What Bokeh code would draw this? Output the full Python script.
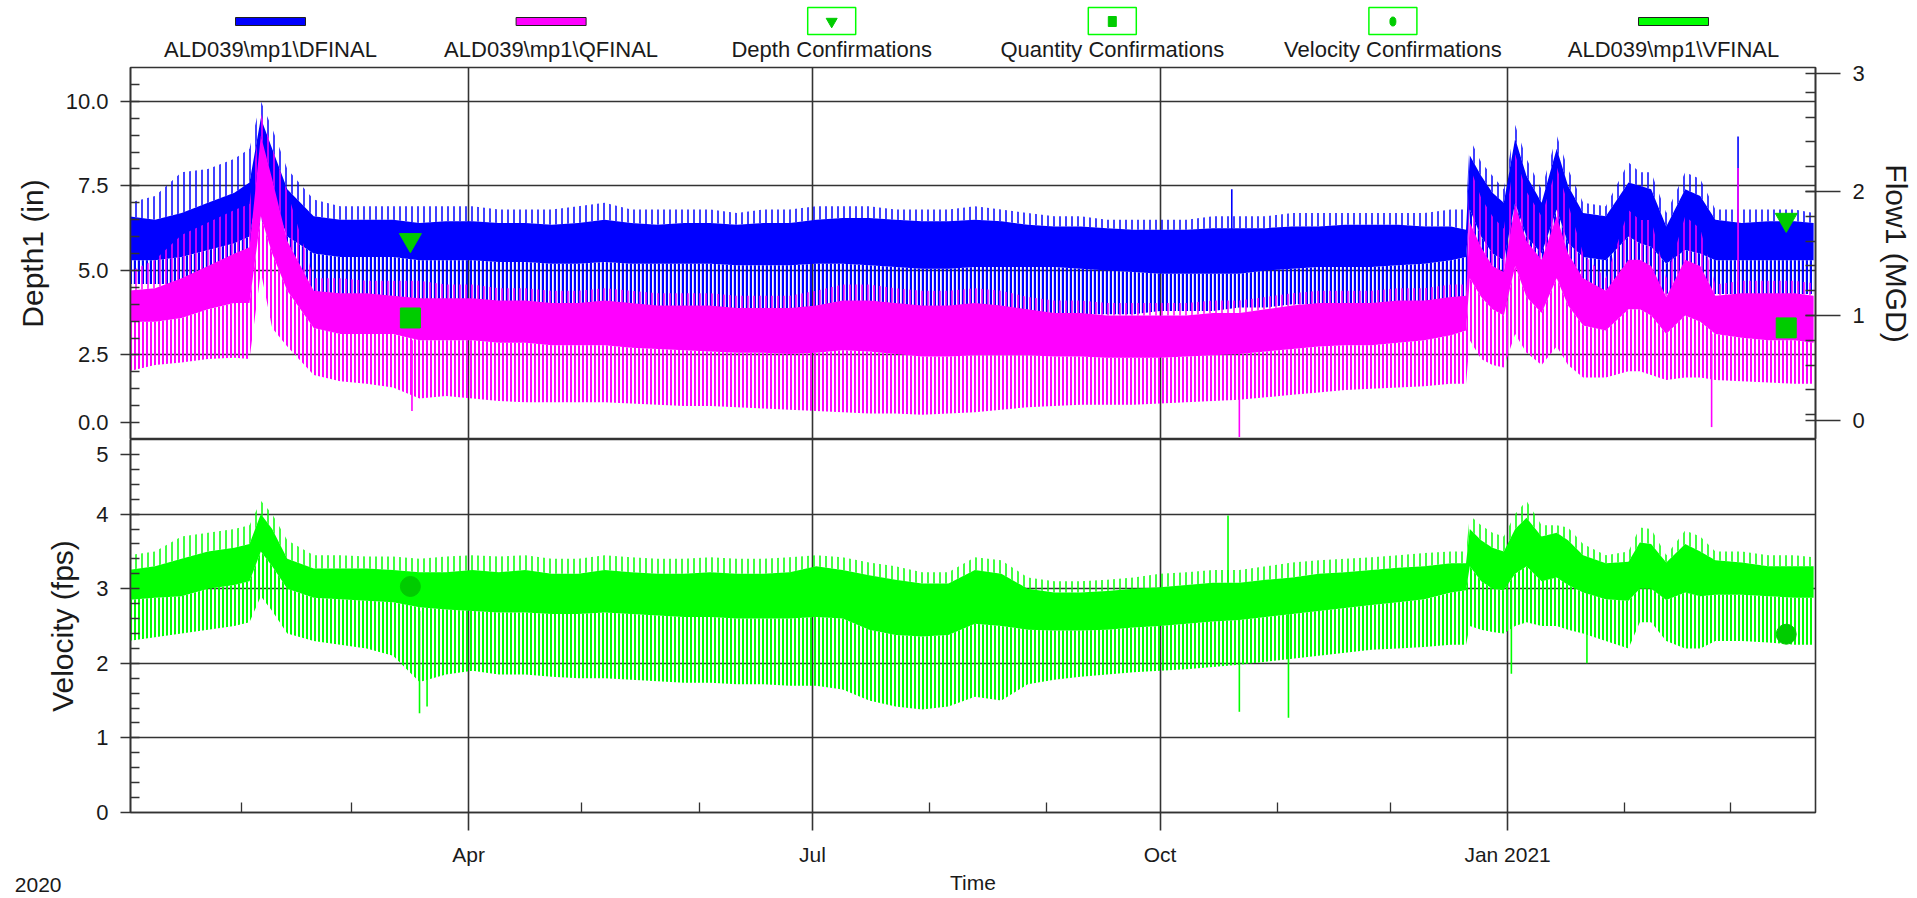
import pandas as pd
from bokeh.plotting import figure
from bokeh.layouts import column
from bokeh.models import Range1d, LinearAxis, FixedTicker, Grid, PrintfTickFormatter
from bokeh.core.properties import value
from bokeh.embed import file_html
from bokeh.resources import INLINE

# ---------------- data ----------------
x_start = "2020-01-02 12:00"
x_end = "2021-03-23 12:00"

sample_dates = [
    "2020-01-02", "2020-01-09", "2020-01-16", "2020-01-23", "2020-01-30", "2020-02-03",
    "2020-02-06", "2020-02-09", "2020-02-13", "2020-02-20", "2020-02-27", "2020-03-05",
    "2020-03-12", "2020-03-19", "2020-03-26", "2020-04-02", "2020-04-09", "2020-04-16",
    "2020-04-23", "2020-04-30", "2020-05-07", "2020-05-14", "2020-05-21", "2020-05-28",
    "2020-06-04", "2020-06-11", "2020-06-18", "2020-06-25", "2020-07-02", "2020-07-09",
    "2020-07-16", "2020-07-23", "2020-07-30", "2020-08-06", "2020-08-13", "2020-08-20",
    "2020-08-27", "2020-09-03", "2020-09-10", "2020-09-17", "2020-09-24", "2020-10-01",
    "2020-10-08", "2020-10-15", "2020-10-22", "2020-10-29", "2020-11-05", "2020-11-12",
    "2020-11-19", "2020-11-26", "2020-12-03", "2020-12-10", "2020-12-17", "2020-12-21",
    "2020-12-22", "2020-12-25", "2020-12-28", "2020-12-31", "2021-01-03", "2021-01-06",
    "2021-01-10", "2021-01-14", "2021-01-17", "2021-01-21", "2021-01-27", "2021-02-02",
    "2021-02-05", "2021-02-08", "2021-02-12", "2021-02-17", "2021-02-21", "2021-02-25",
    "2021-03-04", "2021-03-11", "2021-03-18", "2021-03-23",
]

# Depth (in): tops of daily peaks, top / bottom of dense band, bottoms of nightly dips
depth_peak = [7.0, 7.2, 7.9, 8.0, 8.3, 8.6, 10.0, 9.2, 8.0, 7.1, 6.9, 6.9, 6.9, 6.9, 6.9, 6.9,
              6.8, 6.8, 6.8, 6.9, 7.0, 6.8, 6.8, 6.8, 6.8, 6.7, 6.8, 6.8, 6.9, 6.9, 6.9, 6.8,
              6.8, 6.8, 6.9, 6.8, 6.7, 6.6, 6.6, 6.5, 6.5, 6.5, 6.5, 6.6, 6.6, 6.6, 6.7, 6.7,
              6.7, 6.7, 6.7, 6.7, 6.8, 6.8, 8.9, 8.2, 7.8, 7.4, 9.3, 8.3, 7.4, 9.0, 8.0, 7.0,
              6.9, 8.2, 7.9, 7.9, 6.7, 7.9, 7.7, 6.8, 6.8, 6.8, 6.8, 6.7]
depth_hi = [6.6, 6.5, 6.7, 7.0, 7.3, 7.6, 9.5, 8.6, 7.4, 6.6, 6.5, 6.5, 6.5, 6.4, 6.45, 6.45,
            6.4, 6.4, 6.35, 6.4, 6.5, 6.4, 6.35, 6.4, 6.4, 6.35, 6.4, 6.4, 6.5, 6.55, 6.55,
            6.5, 6.45, 6.45, 6.5, 6.45, 6.35, 6.3, 6.3, 6.25, 6.2, 6.2, 6.2, 6.25, 6.25, 6.25,
            6.3, 6.3, 6.35, 6.35, 6.35, 6.3, 6.3, 6.2, 8.4, 7.8, 7.3, 7.0, 8.9, 7.8, 7.0, 8.6,
            7.5, 6.7, 6.6, 7.6, 7.5, 7.4, 6.3, 7.4, 7.2, 6.5, 6.4, 6.45, 6.45, 6.4]
depth_mid = [5.3, 5.3, 5.4, 5.6, 5.8, 6.0, 7.8, 7.2, 6.0, 5.5, 5.4, 5.4, 5.4, 5.3, 5.3, 5.3,
             5.25, 5.25, 5.2, 5.2, 5.25, 5.2, 5.2, 5.2, 5.2, 5.15, 5.15, 5.15, 5.2, 5.2, 5.15,
             5.1, 5.05, 5.05, 5.1, 5.1, 5.1, 5.1, 5.05, 5.0, 4.95, 4.9, 4.9, 4.9, 4.9, 5.0,
             5.05, 5.1, 5.1, 5.1, 5.15, 5.2, 5.3, 5.4, 6.8, 6.0, 5.5, 5.3, 7.0, 6.0, 5.5, 6.8,
             5.8, 5.4, 5.3, 6.0, 5.8, 5.7, 5.2, 5.6, 5.5, 5.3, 5.3, 5.3, 5.3, 5.3]
depth_lo = [4.6, 4.6, 4.6, 4.8, 4.9, 5.0, 6.5, 6.0, 5.0, 4.3, 4.2, 4.2, 4.2, 4.1, 4.0, 4.0,
            4.0, 3.9, 3.9, 3.9, 3.9, 3.8, 3.8, 3.8, 3.8, 3.7, 3.7, 3.6, 3.5, 3.45, 3.4, 3.35,
            3.3, 3.35, 3.4, 3.5, 3.6, 3.7, 3.7, 3.7, 3.7, 3.8, 3.8, 3.8, 3.9, 3.9, 4.0, 4.0,
            4.0, 4.0, 4.0, 4.05, 4.1, 4.1, 5.4, 4.8, 4.6, 4.5, 5.5, 4.8, 4.5, 5.3, 4.6, 4.4,
            4.4, 4.7, 4.6, 4.5, 4.3, 4.5, 4.4, 4.3, 4.3, 4.3, 4.3, 4.3]

# Flow (MGD)
flow_peak = [1.35, 1.45, 1.65, 1.75, 1.85, 1.9, 2.63, 2.35, 2.0, 1.3, 1.3, 1.28, 1.28, 1.28,
             1.25, 1.25, 1.22, 1.22, 1.2, 1.2, 1.22, 1.2, 1.18, 1.18, 1.18, 1.16, 1.16, 1.16,
             1.2, 1.25, 1.25, 1.22, 1.2, 1.2, 1.22, 1.2, 1.15, 1.12, 1.12, 1.1, 1.1, 1.1, 1.1,
             1.12, 1.12, 1.15, 1.18, 1.2, 1.2, 1.2, 1.22, 1.22, 1.25, 1.25, 2.2, 1.95, 1.8,
             1.7, 2.3, 2.0, 1.8, 2.2, 1.9, 1.5, 1.3, 1.85, 1.77, 1.77, 1.3, 1.8, 1.7, 1.25,
             1.28, 1.28, 1.28, 1.26]
flow_hi = [1.2, 1.22, 1.3, 1.4, 1.5, 1.55, 2.45, 2.1, 1.6, 1.2, 1.18, 1.18, 1.16, 1.14, 1.14,
           1.14, 1.12, 1.12, 1.1, 1.1, 1.12, 1.1, 1.08, 1.08, 1.08, 1.06, 1.06, 1.06, 1.08,
           1.12, 1.12, 1.1, 1.08, 1.08, 1.1, 1.08, 1.05, 1.02, 1.02, 1.0, 1.0, 1.0, 1.0, 1.02,
           1.02, 1.05, 1.08, 1.1, 1.1, 1.1, 1.12, 1.12, 1.15, 1.16, 1.75, 1.55, 1.4, 1.35, 1.9,
           1.6, 1.45, 1.8, 1.5, 1.3, 1.2, 1.45, 1.45, 1.4, 1.15, 1.45, 1.4, 1.16, 1.18, 1.18,
           1.18, 1.16]
flow_mid = [0.95, 0.95, 0.98, 1.05, 1.1, 1.1, 1.8, 1.5, 1.2, 0.9, 0.85, 0.85, 0.85, 0.8, 0.8,
            0.8, 0.78, 0.78, 0.76, 0.76, 0.76, 0.74, 0.73, 0.72, 0.71, 0.7, 0.7, 0.69, 0.7,
            0.72, 0.71, 0.69, 0.67, 0.67, 0.68, 0.68, 0.68, 0.67, 0.67, 0.66, 0.66, 0.66, 0.67,
            0.68, 0.69, 0.71, 0.73, 0.75, 0.76, 0.76, 0.78, 0.8, 0.84, 0.88, 1.3, 1.15, 1.05,
            1.0, 1.4, 1.15, 1.02, 1.3, 1.08, 0.92, 0.88, 1.05, 1.05, 1.0, 0.85, 1.0, 0.95,
            0.85, 0.82, 0.8, 0.8, 0.78]
flow_lo = [0.55, 0.6, 0.62, 0.65, 0.66, 0.65, 1.35, 0.9, 0.75, 0.52, 0.47, 0.45, 0.42, 0.33,
           0.35, 0.33, 0.31, 0.3, 0.3, 0.3, 0.3, 0.29, 0.28, 0.27, 0.27, 0.26, 0.25, 0.24,
           0.23, 0.22, 0.21, 0.21, 0.2, 0.21, 0.22, 0.24, 0.26, 0.27, 0.28, 0.28, 0.28, 0.29,
           0.3, 0.31, 0.32, 0.34, 0.36, 0.38, 0.4, 0.41, 0.42, 0.43, 0.45, 0.45, 0.8, 0.65,
           0.6, 0.58, 0.85, 0.7, 0.6, 0.75, 0.6, 0.5, 0.5, 0.55, 0.55, 0.52, 0.48, 0.5, 0.5,
           0.48, 0.47, 0.46, 0.45, 0.45]

# Velocity (fps)
vel_peak = [3.45, 3.5, 3.7, 3.75, 3.8, 3.85, 4.18, 4.0, 3.65, 3.45, 3.45, 3.43, 3.43, 3.4,
            3.43, 3.45, 3.43, 3.45, 3.4, 3.4, 3.45, 3.42, 3.4, 3.4, 3.42, 3.4, 3.4, 3.42, 3.45,
            3.42, 3.35, 3.3, 3.22, 3.22, 3.42, 3.38, 3.15, 3.1, 3.1, 3.12, 3.15, 3.2, 3.22,
            3.25, 3.25, 3.3, 3.35, 3.38, 3.4, 3.42, 3.45, 3.48, 3.5, 3.5, 3.98, 3.85, 3.75, 3.7,
            4.0, 4.18, 3.85, 3.85, 3.82, 3.6, 3.45, 3.5, 3.82, 3.8, 3.45, 3.78, 3.7, 3.5, 3.5,
            3.45, 3.45, 3.42]
vel_hi = [3.25, 3.3, 3.4, 3.5, 3.55, 3.6, 4.0, 3.8, 3.4, 3.27, 3.27, 3.27, 3.25, 3.22, 3.22,
          3.25, 3.22, 3.25, 3.2, 3.2, 3.25, 3.22, 3.2, 3.2, 3.22, 3.2, 3.2, 3.22, 3.3, 3.25,
          3.18, 3.12, 3.07, 3.07, 3.25, 3.2, 3.0, 2.95, 2.95, 2.97, 3.0, 3.02, 3.05, 3.08,
          3.08, 3.12, 3.15, 3.2, 3.22, 3.25, 3.28, 3.3, 3.34, 3.34, 3.8, 3.65, 3.55, 3.5, 3.8,
          3.95, 3.7, 3.75, 3.65, 3.45, 3.34, 3.36, 3.62, 3.6, 3.35, 3.6, 3.5, 3.38, 3.35, 3.3,
          3.3, 3.3]
vel_mid = [2.85, 2.88, 2.9, 3.0, 3.05, 3.1, 3.5, 3.3, 3.0, 2.88, 2.86, 2.84, 2.82, 2.75, 2.72,
           2.7, 2.68, 2.68, 2.66, 2.66, 2.68, 2.66, 2.64, 2.62, 2.62, 2.6, 2.6, 2.6, 2.62, 2.6,
           2.45, 2.38, 2.36, 2.38, 2.53, 2.5, 2.45, 2.44, 2.44, 2.45, 2.48, 2.5, 2.53, 2.56,
           2.58, 2.62, 2.66, 2.7, 2.74, 2.78, 2.82, 2.86, 2.95, 2.98, 3.3, 3.1, 3.0, 2.98, 3.2,
           3.3, 3.1, 3.15, 3.05, 2.95, 2.86, 2.84, 3.0, 3.0, 2.85, 2.95, 2.9, 2.92, 2.92, 2.9,
           2.88, 2.88]
vel_lo = [2.3, 2.35, 2.4, 2.45, 2.5, 2.55, 2.9, 2.7, 2.4, 2.3, 2.25, 2.2, 2.1, 1.75, 1.85, 1.9,
          1.85, 1.85, 1.82, 1.8, 1.8, 1.78, 1.76, 1.74, 1.74, 1.72, 1.72, 1.7, 1.7, 1.65, 1.5,
          1.42, 1.38, 1.42, 1.55, 1.5, 1.72, 1.78, 1.82, 1.85, 1.88, 1.9, 1.92, 1.95, 1.98,
          2.02, 2.06, 2.1, 2.14, 2.18, 2.2, 2.22, 2.25, 2.25, 2.5, 2.45, 2.42, 2.4, 2.5, 2.55,
          2.5, 2.5, 2.45, 2.4, 2.3, 2.2, 2.55, 2.55, 2.3, 2.2, 2.2, 2.3, 2.3, 2.28, 2.25, 2.25]

# single-sample excursions
depth_spike_dates = ["2020-10-20", "2021-03-03"]
depth_spike_from = [6.2, 6.4]
depth_spike_to = [7.4, 8.96]
flow_spike_dates = ["2020-03-17", "2020-10-22", "2021-02-24", "2021-03-03"]
flow_spike_from = [0.8, 0.69, 0.85, 1.16]
flow_spike_to = [0.23, 0.02, 0.1, 2.19]
vel_spike_dates = ["2020-03-19", "2020-03-21", "2020-10-19", "2020-10-22", "2020-11-04",
                   "2021-01-02", "2021-01-22"]
vel_spike_from = [2.7, 2.7, 3.08, 2.58, 2.66, 3.0, 2.95]
vel_spike_to = [1.33, 1.42, 3.98, 1.35, 1.27, 1.86, 2.0]

# confirmations
conf_dates = ["2020-03-16 14:00", "2021-03-15 18:00"]
depth_conf = [5.9, 6.5]
qty_conf = [0.98, 0.9]
vel_conf = [3.03, 2.39]

# axes / texts
depth_tick_pos = [0.5, 2.5, 5.0, 7.5, 10.0]
depth_tick_labels = ["0.0", "2.5", "5.0", "7.5", "10.0"]
depth_grid = [2.5, 5.0, 7.5, 10.0]
flow_tick_pos = [0.15, 1, 2, 2.955]
flow_tick_labels = ["0", "1", "2", "3"]
vel_tick_pos = [0, 1, 2, 3, 4, 4.8]
vel_tick_labels = ["0", "1", "2", "3", "4", "5"]
vel_grid = [1, 2, 3, 4]
quarter_dates = ["2020-04-01", "2020-07-01", "2020-10-01", "2021-01-01"]
quarter_labels = ["Apr", "Jul", "Oct", "Jan 2021"]
month_dates = ["2020-02-01", "2020-03-01", "2020-05-01", "2020-06-01", "2020-08-01",
               "2020-09-01", "2020-11-01", "2020-12-01", "2021-02-01", "2021-03-01"]
year_label = "2020"
time_label = "Time"

legend_labels = ["ALD039\\mp1\\DFINAL", "ALD039\\mp1\\QFINAL", "Depth Confirmations",
                 "Quantity Confirmations", "Velocity Confirmations", "ALD039\\mp1\\VFINAL"]

# ---------------- style / layout ----------------
BLUE, MAGENTA, GREEN, CONF = "#0000FF", "#FF00FF", "#00FF00", "#00CC00"
GRIDC, TEXT = "#333333", "#1a1a1a"
FONT = "Liberation Sans"
W = 1917
BL, BR = 130, 102            # frame spans x 130 .. 1815 in every row
FX0, FX1 = BL, W - BR
LEG_H = 62                   # legend strip
FY0, FY1, FY2 = 67, 439, 812 # frame tops/bottoms
BOT_B = 56                   # space under lower frame for tick labels
PAGE_H = 897
TXT_H = PAGE_H - (FY2 + BOT_B)


def ms(d):
    return pd.Timestamp(d).value / 1e6


X = pd.to_datetime(sample_dates)
x_range = Range1d(pd.Timestamp(x_start), pd.Timestamp(x_end))


def style_axis(ax, size):
    ax.axis_line_color = GRIDC
    ax.axis_line_width = 1.6
    ax.major_tick_line_color = GRIDC
    ax.major_tick_line_width = 1.6
    ax.minor_tick_line_color = GRIDC
    ax.minor_tick_line_width = 1.3
    ax.major_label_text_font = FONT
    ax.major_label_text_font_size = size
    ax.major_label_text_color = TEXT
    ax.axis_label_text_font = FONT
    ax.axis_label_text_font_style = "normal"
    ax.axis_label_text_color = TEXT
    ax.axis_label_text_font_size = "30px"


def strip(height, y_top, y_axis=None):
    f = figure(width=W, height=height, x_range=Range1d(FX0, FX1),
               y_range=Range1d(y_top + height, y_top), x_axis_location=None,
               y_axis_location=y_axis, output_backend="svg", toolbar_location=None,
               min_border_left=BL, min_border_right=BR, min_border_top=0, min_border_bottom=0)
    f.outline_line_color = None
    f.xgrid.visible = False
    f.ygrid.visible = False
    return f


def draw_series(fig, peak, hi, mid, lo, color, comb_weight=2.0, **kw):
    # sparse fringe of daily peaks, comb of nightly dips, dense band
    fig.varea(x=X, y1=hi, y2=peak, fill_alpha=0, hatch_pattern="vertical_line",
              hatch_color=color, hatch_weight=1.5, hatch_scale=6, **kw)
    fig.varea(x=X, y1=lo, y2=mid, fill_alpha=0, hatch_pattern="vertical_line",
              hatch_color=color, hatch_weight=comb_weight, hatch_scale=4, **kw)
    fig.varea(x=X, y1=mid, y2=hi, fill_color=color, fill_alpha=1, **kw)


# ---------------- legend strip (page pixel coordinates) ----------------
pl = strip(LEG_H, 0)
cx = [270 + i * 280.6 for i in range(6)]
line_idx, box_idx = [0, 1, 5], [2, 3, 4]
pl.rect(x=[cx[i] for i in line_idx], y=21, width=70, height=8,
        fill_color=[BLUE, MAGENTA, GREEN], line_color="#202020", line_width=1)
pl.rect(x=[cx[i] for i in box_idx], y=20.5, width=48, height=27, fill_alpha=0,
        line_color=GREEN, line_width=1.5)
pl.scatter(x=[cx[2]], y=[21], marker="inverted_triangle", size=11, fill_color=CONF,
           line_color=CONF)
pl.rect(x=[cx[3]], y=[21], width=8, height=10, fill_color=CONF, line_color=CONF)
pl.ellipse(x=[cx[4]], y=[21], width=6, height=9, fill_color=CONF, line_color=CONF)
pl.text(x=cx, y=49, text=legend_labels, text_align="center", text_baseline="middle",
        text_font=value(FONT), text_font_size=value("22px"), text_color=TEXT)

# ---------------- upper panel ----------------
p1 = figure(width=W, height=FY1 - LEG_H, x_range=x_range, y_range=Range1d(0, 11),
            x_axis_type="datetime", x_axis_location=None, output_backend="svg",
            toolbar_location=None, min_border_left=BL, min_border_right=BR,
            min_border_top=FY0 - LEG_H, min_border_bottom=0)
p1.extra_y_ranges = {"flow": Range1d(0, 3)}
p1.outline_line_color = GRIDC
p1.outline_line_width = 1.6
p1.xgrid.visible = False
p1.ygrid.visible = False
p1.add_layout(Grid(dimension=0, ticker=FixedTicker(ticks=[ms(d) for d in quarter_dates]),
                   grid_line_color=GRIDC, grid_line_width=1.6))
p1.add_layout(Grid(dimension=1, ticker=FixedTicker(ticks=depth_grid),
                   grid_line_color=GRIDC, grid_line_width=1.6))

ya = p1.yaxis[0]
ya.ticker = FixedTicker(ticks=depth_tick_pos, minor_ticks=[i * 0.5 for i in range(1, 22)])
ya.formatter = PrintfTickFormatter(format="%.1f")
ya.major_label_overrides = dict(zip(depth_tick_pos, depth_tick_labels))
ya.axis_label = "Depth1 (in)"
style_axis(ya, "22px")
ya.major_tick_out, ya.major_tick_in = 10, 0
ya.minor_tick_out, ya.minor_tick_in = 0, 9
ya.major_label_standoff = 12
ya.axis_label_standoff = 14

ra = LinearAxis(y_range_name="flow", axis_label="Flow1 (MGD)",
                ticker=FixedTicker(ticks=flow_tick_pos,
                                   minor_ticks=[i * 0.2 for i in range(1, 15)]))
ra.major_label_overrides = dict(zip(flow_tick_pos, flow_tick_labels))
style_axis(ra, "22px")
ra.major_tick_out, ra.major_tick_in = 25, 10
ra.minor_tick_out, ra.minor_tick_in = 0, 10
ra.major_label_standoff = 12
ra.axis_label_standoff = 12
p1.add_layout(ra, "right")

draw_series(p1, depth_peak, depth_hi, depth_mid, depth_lo, BLUE, comb_weight=2.4)
p1.segment(x0=pd.to_datetime(depth_spike_dates), y0=depth_spike_from,
           x1=pd.to_datetime(depth_spike_dates), y1=depth_spike_to, line_color=BLUE,
           line_width=1.6)
draw_series(p1, flow_peak, flow_hi, flow_mid, flow_lo, MAGENTA, y_range_name="flow")
p1.segment(x0=pd.to_datetime(flow_spike_dates), y0=flow_spike_from,
           x1=pd.to_datetime(flow_spike_dates), y1=flow_spike_to, line_color=MAGENTA,
           line_width=1.6, y_range_name="flow")
p1.scatter(x=pd.to_datetime(conf_dates), y=depth_conf, marker="inverted_triangle", size=22,
           fill_color=CONF, line_color=CONF)
p1.scatter(x=pd.to_datetime(conf_dates), y=qty_conf, marker="square", size=20,
           fill_color=CONF, line_color=CONF, y_range_name="flow")

# ---------------- lower panel ----------------
p2 = figure(width=W, height=FY2 + BOT_B - FY1, x_range=x_range, y_range=Range1d(0, 5),
            x_axis_type="datetime", output_backend="svg", toolbar_location=None,
            min_border_left=BL, min_border_right=BR, min_border_top=0,
            min_border_bottom=BOT_B)
p2.outline_line_color = GRIDC
p2.outline_line_width = 1.6
p2.xgrid.visible = False
p2.ygrid.visible = False
p2.add_layout(Grid(dimension=0, ticker=FixedTicker(ticks=[ms(d) for d in quarter_dates]),
                   grid_line_color=GRIDC, grid_line_width=1.6))
p2.add_layout(Grid(dimension=1, ticker=FixedTicker(ticks=vel_grid),
                   grid_line_color=GRIDC, grid_line_width=1.6))

va = p2.yaxis[0]
va.ticker = FixedTicker(ticks=vel_tick_pos, minor_ticks=[i * 0.2 for i in range(1, 25)])
va.major_label_overrides = dict(zip(vel_tick_pos, vel_tick_labels))
va.axis_label = "Velocity (fps)"
style_axis(va, "22px")
va.major_tick_out, va.major_tick_in = 10, 0
va.minor_tick_out, va.minor_tick_in = 0, 9
va.major_label_standoff = 12
va.axis_label_standoff = 14

xa = p2.xaxis[0]
xa.ticker = FixedTicker(ticks=[ms(d) for d in quarter_dates],
                        minor_ticks=[ms(d) for d in month_dates])
xa.major_label_overrides = {ms(d): lab for d, lab in zip(quarter_dates, quarter_labels)}
style_axis(xa, "21px")
xa.major_tick_out, xa.major_tick_in = 18, 0
xa.minor_tick_out, xa.minor_tick_in = 0, 10
xa.major_label_standoff = 12

draw_series(p2, vel_peak, vel_hi, vel_mid, vel_lo, GREEN)
p2.segment(x0=pd.to_datetime(vel_spike_dates), y0=vel_spike_from,
           x1=pd.to_datetime(vel_spike_dates), y1=vel_spike_to, line_color=GREEN,
           line_width=1.6)
p2.scatter(x=pd.to_datetime(conf_dates), y=vel_conf, marker="circle", size=20,
           fill_color=CONF, line_color=CONF)

# ---------------- bottom text strip: "2020" (as left tick label) and "Time" ----------------
pb = strip(TXT_H, FY2 + BOT_B, y_axis="left")
yb = pb.yaxis[0]
yb.ticker = FixedTicker(ticks=[884], minor_ticks=[])
yb.major_label_overrides = {884: year_label}
yb.axis_line_color = None
yb.major_tick_line_color = None
yb.minor_tick_line_color = None
yb.major_tick_out = yb.major_tick_in = 0
yb.major_label_standoff = 69
yb.major_label_text_font = FONT
yb.major_label_text_font_size = "21px"
yb.major_label_text_color = TEXT
pb.text(x=[(FX0 + FX1) / 2], y=[882], text=[time_label], text_align="center",
        text_baseline="middle", text_font=value(FONT), text_font_size=value("21px"),
        text_color=TEXT)

layout = column(pl, p1, p2, pb)
open("out.html", "w").write(file_html(layout, INLINE))
